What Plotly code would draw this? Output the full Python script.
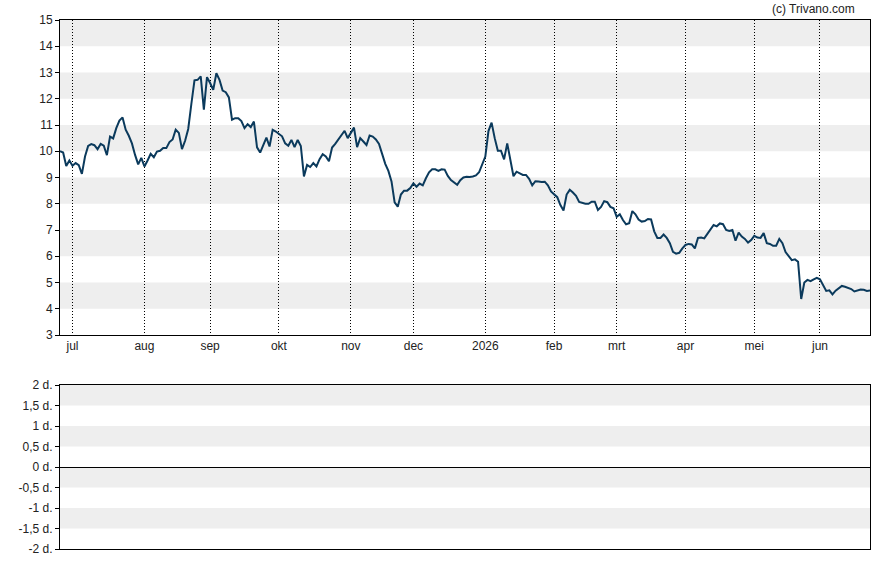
import plotly.graph_objects as go
import pandas as pd

start_date = "2025-06-25"

prices = [
    10.0, 9.95, 9.44, 9.65, 9.45, 9.55, 9.47, 9.14, 9.8, 10.2,
    10.27, 10.23, 10.08, 10.28, 10.21, 9.85, 10.56, 10.49, 10.88, 11.17,
    11.29, 10.82, 10.59, 10.3, 9.86, 9.5, 9.75, 9.42, 9.65, 9.9,
    9.77, 9.99, 10.02, 10.12, 10.12, 10.35, 10.45, 10.82, 10.7, 10.08,
    10.4, 10.85, 11.8, 12.7, 12.72, 12.85, 11.58, 12.82, 12.6, 12.34,
    12.97, 12.72, 12.31, 12.25, 12.05, 11.2, 11.26, 11.26, 11.15, 10.88,
    11.03, 10.92, 11.13, 10.15, 9.95, 10.24, 10.52, 10.18, 10.82, 10.75,
    10.65, 10.57, 10.3, 10.21, 10.43, 10.16, 10.43, 10.2, 9.04, 9.48,
    9.4, 9.55, 9.42, 9.7, 9.89, 9.8, 9.62, 10.14, 10.28, 10.45,
    10.6, 10.78, 10.5, 10.72, 10.9, 10.16, 10.5, 10.37, 10.24, 10.6,
    10.56, 10.45, 10.28, 9.9, 9.52, 9.25, 8.85, 8.05, 7.89, 8.35,
    8.5, 8.5, 8.6, 8.78, 8.65, 8.77, 8.7, 8.97, 9.2, 9.31,
    9.31, 9.25, 9.31, 9.3, 9.06, 8.9, 8.82, 8.72, 8.9, 9.0,
    9.03, 9.02, 9.04, 9.08, 9.2, 9.54, 9.8, 10.77, 11.09, 10.5,
    10.02, 10.02, 9.69, 10.3, 9.7, 9.05, 9.22, 9.17, 9.1, 9.1,
    8.95, 8.7, 8.86, 8.85, 8.83, 8.84, 8.7, 8.47, 8.36, 8.25,
    7.95, 7.74, 8.35, 8.53, 8.43, 8.3, 8.07, 8.04, 8.0, 8.0,
    8.08, 8.08, 7.76, 7.88, 8.1, 8.06, 7.88, 7.83, 7.5, 7.6,
    7.38, 7.22, 7.26, 7.72, 7.6, 7.4, 7.32, 7.34, 7.42, 7.4,
    6.95, 6.7, 6.7, 6.83, 6.7, 6.5, 6.17, 6.1, 6.13, 6.3,
    6.43, 6.47, 6.45, 6.3, 6.7, 6.71, 6.68, 6.85, 7.02, 7.19,
    7.14, 7.25, 7.22, 7.0, 6.96, 7.0, 6.59, 6.9, 6.75, 6.66,
    6.52, 6.62, 6.78, 6.71, 6.7, 6.88, 6.5, 6.47, 6.4, 6.4,
    6.66, 6.5, 6.16, 6.02, 5.85, 5.88, 5.79, 4.37, 5.0, 5.1,
    5.05, 5.12, 5.18, 5.12, 4.92, 4.68, 4.7, 4.55, 4.69, 4.78,
    4.87, 4.84, 4.8, 4.75, 4.66, 4.71, 4.73, 4.72, 4.68, 4.7,
]

month_abbr = ["jan", "feb", "mrt", "apr", "mei", "jun",
              "jul", "aug", "sep", "okt", "nov", "dec"]

price_ticks = list(range(3, 16))
grey_bands_top = [4, 6, 8, 10, 12, 14]

sub_ticks = [2, 1.5, 1, 0.5, 0, -0.5, -1, -1.5, -2]
sub_labels = ["2 d.", "1,5 d.", "1 d.", "0,5 d.", "0 d.",
              "-0,5 d.", "-1 d.", "-1,5 d.", "-2 d."]
grey_bands_sub = [2, 1, 0, -1]

dates = pd.bdate_range(start_date, periods=len(prices))
s = pd.Series(dates)
firsts = s.groupby([s.dt.year, s.dt.month]).first()
firsts = [d for d in firsts if d.day <= 3]
tickvals = firsts
ticktext = [str(d.year) if d.month == 1 else month_abbr[d.month - 1] for d in firsts]

FONT = dict(family="Arial, Liberation Sans, sans-serif", size=12, color="#222222")
LINE = "#0b3a5c"

fig = go.Figure()
fig.add_trace(go.Scatter(x=dates, y=prices, mode="lines",
                         line=dict(color=LINE, width=2),
                         xaxis="x", yaxis="y", showlegend=False,
                         hoverinfo="x+y"))
fig.add_trace(go.Scatter(x=[], y=[], mode="lines", xaxis="x2", yaxis="y2",
                         showlegend=False))

shapes = []
for v in grey_bands_top:
    shapes.append(dict(type="rect", xref="x domain", yref="y", x0=0, x1=1,
                       y0=v, y1=v + 1, fillcolor="#eeeeee", line=dict(width=0),
                       layer="below"))
for v in grey_bands_sub:
    shapes.append(dict(type="rect", xref="x2 domain", yref="y2", x0=0, x1=1,
                       y0=v - 0.5, y1=v, fillcolor="#eeeeee", line=dict(width=0),
                       layer="below"))

rb = [dict(bounds=["sat", "mon"])]
xr = [dates[0], dates[-1]]

fig.update_layout(
    width=888, height=565,
    margin=dict(l=60, r=18, t=20, b=16),
    paper_bgcolor="white", plot_bgcolor="white",
    font=FONT,
    showlegend=False,
    shapes=shapes,
    xaxis=dict(domain=[0, 1], anchor="y", type="date", range=xr, rangebreaks=rb,
               tickmode="array", tickvals=tickvals, ticktext=ticktext,
               showgrid=True, gridcolor="black", gridwidth=1, griddash="1px,2px",
               showline=True, mirror=True, linecolor="black", linewidth=1,
               ticks="", zeroline=False, automargin=False, tickfont=FONT),
    yaxis=dict(domain=[214 / 529, 1], anchor="x", range=[3, 15],
               tickmode="array", tickvals=price_ticks,
               showgrid=False, zeroline=False,
               ticks="outside", ticklen=4, tickcolor="black", tickwidth=1,
               showline=True, mirror=True, linecolor="black", linewidth=1,
               automargin=False, tickfont=FONT),
    xaxis2=dict(domain=[0, 1], anchor="y2", type="date", range=xr, rangebreaks=rb,
                showticklabels=False, showgrid=False, zeroline=False,
                showline=True, mirror=True, linecolor="black", linewidth=1,
                ticks="", automargin=False),
    yaxis2=dict(domain=[0, 164 / 529], anchor="x2", range=[-2, 2],
                tickmode="array", tickvals=sub_ticks, ticktext=sub_labels,
                showgrid=False, zeroline=True, zerolinecolor="black", zerolinewidth=1,
                ticks="outside", ticklen=4, tickcolor="black", tickwidth=1,
                showline=True, mirror=True, linecolor="black", linewidth=1,
                automargin=False, tickfont=FONT),
    annotations=[dict(text="(c) Trivano.com", xref="paper", yref="paper",
                      x=0.984, y=1 + 11 / 529, xanchor="right", yanchor="middle",
                      showarrow=False, font=FONT)],
)

fig.write_html("out.html")
